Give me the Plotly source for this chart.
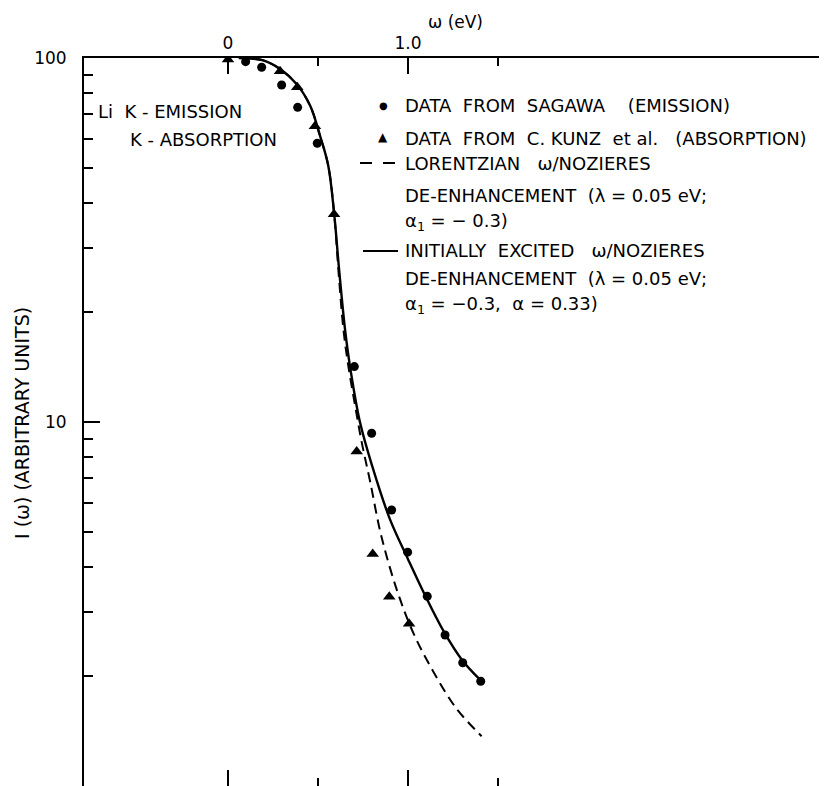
import plotly.graph_objects as go

# ---- data ----
sagawa_w = [0.098, 0.187, 0.298, 0.387, 0.496, 0.702, 0.798, 0.909, 0.998, 1.107, 1.206, 1.304, 1.404]
sagawa_I = [97.7, 94.3, 84.3, 73.2, 58.3, 14.2, 9.31, 5.73, 4.39, 3.32, 2.60, 2.18, 1.94]

kunz_w = [0.0, 0.289, 0.385, 0.483, 0.589, 0.715, 0.804, 0.896, 1.006]
kunz_I = [99.0, 91.9, 83.1, 64.9, 37.2, 8.3, 4.34, 3.31, 2.79]

solid_w = [0.06, 0.104, 0.196, 0.289, 0.381, 0.456, 0.511, 0.557, 0.589, 0.617, 0.650,
           0.678, 0.733, 0.80, 0.90, 1.00, 1.10, 1.20, 1.30, 1.40]
solid_I = [100, 99.8, 98.5, 93.3, 84.8, 74.0, 61.2, 50.6, 37.7, 26.3, 18.0,
           14.2, 10.0, 7.6, 5.4, 4.2, 3.3, 2.65, 2.22, 1.96]

dash_w = [0.06, 0.104, 0.196, 0.289, 0.381, 0.456, 0.511, 0.557, 0.589, 0.615, 0.641,
          0.668, 0.706, 0.743, 0.79, 0.85, 0.937, 1.03, 1.141, 1.27, 1.409]
dash_I = [100, 99.8, 98.5, 93.3, 84.8, 74.0, 61.2, 50.6, 37.7, 25.5, 18.0,
          14.3, 11.1, 8.79, 6.85, 4.9, 3.47, 2.63, 2.06, 1.63, 1.37]

x_major = [0, 1]
x_major_text = ["0", "1.0"]
x_minor = [0.5, 1.5]
y_major = [1, 10, 100]
y_major_text = ["1", "10", "100"]
y_minor = [2, 3, 4, 5, 6, 7, 8, 9, 20, 30, 40, 50, 60, 70, 80, 90]

FONT = "DejaVu Sans"
FS = 18
OFF = 8                      # page body margin of the html page
W, H = 827, 786
ML, MT, MR, MB = 84 - OFF, 58 - OFF, OFF, OFF
PW, PH = W - ML - MR, H - MT - MB   # 743 x 728


# page-pixel -> paper helpers (page coordinates of the photographed window)
def px(xp):
    return (xp - 84) / PW


def py(yp):
    return (786 - yp) / PH


fig = go.Figure()
fig.add_trace(go.Scatter(x=dash_w, y=dash_I, mode="lines", line_shape="spline",
                         line=dict(color="black", width=2, dash="10px,6px"),
                         showlegend=False))
fig.add_trace(go.Scatter(x=solid_w, y=solid_I, mode="lines", line_shape="spline",
                         line=dict(color="black", width=2.4), showlegend=False))
fig.add_trace(go.Scatter(x=sagawa_w, y=sagawa_I, mode="markers",
                         marker=dict(symbol="circle", size=9, color="black"),
                         showlegend=False))
fig.add_trace(go.Scatter(x=kunz_w, y=kunz_I, mode="markers",
                         marker=dict(symbol="triangle-up", size=11, color="black"),
                         showlegend=False))

annotations = []


def txt(s, x, y, size=FS, xanchor="left"):
    annotations.append(dict(text=s, x=px(x), y=py(y), xref="paper", yref="paper",
                            xanchor=xanchor, yanchor="middle", showarrow=False,
                            font=dict(family=FONT, size=size, color="black")))


txt("Li  K - EMISSION", 96, 112)
txt("K - ABSORPTION", 128, 139)

txt("DATA  FROM  SAGAWA    (EMISSION)", 403, 105)
txt("DATA  FROM  C. KUNZ  et al.   (ABSORPTION)", 403, 138)
txt("LORENTZIAN   ω/NOZIERES", 403, 163)
txt("DE-ENHANCEMENT  (λ = 0.05 eV;", 403, 195)
txt("α<sub>1</sub> = − 0.3)", 403, 222)
txt("INITIALLY  EXCITED   ω/NOZIERES", 403, 251)
txt("DE-ENHANCEMENT  (λ = 0.05 eV;", 403, 278)
txt("α<sub>1</sub> = −0.3,  α = 0.33)", 403, 305)

# legend keys
txt("●", 383, 105, size=10, xanchor="center")
txt("▲", 383, 137, size=12, xanchor="center")

shapes = [
    dict(type="line", xref="paper", yref="paper", x0=px(360), x1=px(372), y0=py(163), y1=py(163),
         line=dict(color="black", width=2)),
    dict(type="line", xref="paper", yref="paper", x0=px(383), x1=px(395), y0=py(163), y1=py(163),
         line=dict(color="black", width=2)),
    dict(type="line", xref="paper", yref="paper", x0=px(363), x1=px(398), y0=py(251), y1=py(251),
         line=dict(color="black", width=2)),
]

# y-axis title
annotations.append(dict(text="I (ω) (ARBITRARY UNITS)", x=px(22), y=py(423), xref="paper", yref="paper",
                        textangle=-90, showarrow=False, xanchor="center", yanchor="middle",
                        font=dict(family=FONT, size=19, color="black")))

fig.update_layout(
    width=W, height=H,
    margin=dict(l=ML, r=MR, t=MT, b=MB, autoexpand=False),
    paper_bgcolor="white", plot_bgcolor="white",
    font=dict(family=FONT, color="black", size=FS),
    annotations=annotations, shapes=shapes,
    xaxis=dict(
        side="top", range=[-(228 - 84) / 180, (827 - 228) / 180], automargin=False,
        showline=True, linecolor="black", linewidth=2, mirror="ticks",
        showgrid=False, zeroline=False,
        tickmode="array", tickvals=x_major, ticktext=x_major_text,
        ticks="inside", ticklen=16, tickwidth=1.5, tickcolor="black",
        tickfont=dict(family=FONT, size=17), ticklabelstandoff=0,
        minor=dict(tickmode="array", tickvals=x_minor, ticks="inside", ticklen=8,
                   tickwidth=1.5, tickcolor="black", showgrid=False),
        title=dict(text="ω (eV)", font=dict(family=FONT, size=17), standoff=0),
    ),
    yaxis=dict(
        type="log", range=[0, 2], automargin=False,
        showline=True, linecolor="black", linewidth=2,
        showgrid=False, zeroline=False,
        tickmode="array", tickvals=y_major, ticktext=y_major_text,
        ticks="inside", ticklen=16, tickwidth=1.5, tickcolor="black",
        tickfont=dict(family=FONT, size=17), ticklabelstandoff=12,
        minor=dict(tickmode="array", tickvals=y_minor, ticks="inside", ticklen=9,
                   tickwidth=1.5, tickcolor="black", showgrid=False),
    ),
)

fig.write_html("out.html")
